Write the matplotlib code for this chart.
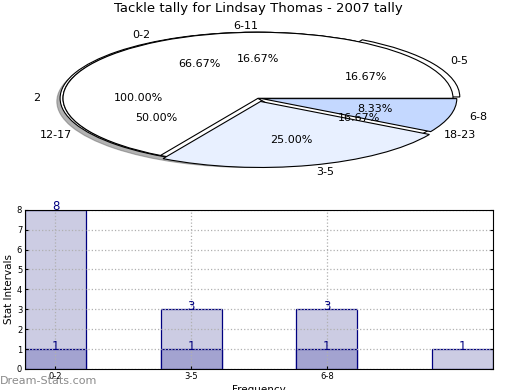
import matplotlib
matplotlib.use("Agg")
import matplotlib.pyplot as plt

TITLE = "Tackle tally for Lindsay Thomas - 2007 tally"

# pie rings drawn on top of each other
day_labels = ["2"]
day_values = [1]
hour_labels = ["0-5", "6-11", "12-17", "18-23"]
hour_values = [1, 1, 3, 1]
tally_labels = ["0-2", "3-5", "6-8"]
tally_values = [8, 3, 1]

# bar chart
bar_labels = ["0-2", "3-5", "6-8", ""]
bar_totals = [8, 3, 3, 1]
bar_lows = [1, 1, 1, 0]

fig = plt.figure(figsize=(5.2, 3.9), dpi=100)

# --- squashed pie ---
pax = fig.add_axes([0.0087, 0.528, 0.975, 0.44])
txt = dict(fontsize=8)
edge = dict(edgecolor="black", linewidth=0.8)
pax.pie(day_values, labels=day_labels, autopct="%.2f%%", colors=["white"],
        wedgeprops=edge, shadow=dict(ox=-0.012, oy=-0.035, shade=0.6),
        labeldistance=1.1, pctdistance=0.6, textprops=txt, center=(-0.015, 0.0))
pax.pie(hour_values, labels=hour_labels, autopct="%.2f%%",
        colors=["white"] * 4, explode=[0.04, 0, 0, 0], wedgeprops=edge,
        labeldistance=1.1, pctdistance=0.6, textprops=txt)
pax.pie(tally_values, labels=tally_labels, autopct="%.2f%%",
        colors=["white", "#E8F0FF", "#C4D8FF"], explode=[0, 0.05, 0.02],
        wedgeprops=edge, labeldistance=1.1, pctdistance=0.6, textprops=txt)
pax.set_aspect("auto")
pax.set_xlim(-1.3, 1.3)
pax.set_ylim(-1.3, 1.3)
pax.set_title(TITLE, fontsize=9.5, y=1.0, pad=0)

# --- bars ---
bax = fig.add_axes([0.048, 0.054, 0.9, 0.408])
x = list(range(len(bar_totals)))
bax.bar(x, bar_totals, width=0.45, color="#CCCCE3", edgecolor="#000080", linewidth=0.9)
bax.bar(x[:3], bar_lows[:3], width=0.45, color="#A3A3D0", edgecolor="#000080", linewidth=0.9)
for xi, v in zip(x, bar_totals):
    bax.text(xi, v + 0.15, str(v), ha="center", va="center", fontsize=8.5, color="#000080")
for xi, v in zip(x[:3], bar_lows[:3]):
    bax.text(xi, v + 0.15, str(v), ha="center", va="center", fontsize=8.5, color="#000080")
bax.set_xlim(-0.225, 3.225)
bax.set_ylim(0, 8)
bax.set_yticks(range(9))
bax.set_xticks(x[:3])
bax.set_xticklabels(bar_labels[:3])
bax.tick_params(labelsize=6, direction="in", length=2, right=True, pad=2)
bax.set_axisbelow(False)
bax.grid(True, linestyle=":", color="#b0b0b0", linewidth=0.9)
for sp in bax.spines.values():
    sp.set_zorder(5)
bax.set_ylabel("Stat Intervals", fontsize=7.5, labelpad=2)
bax.set_xlabel("Frequency", fontsize=7.5, labelpad=3)

fig.text(0.0, 0.015, "Dream-Stats.com", fontsize=8, color="#8a8a8a")

fig.savefig("out.png", dpi=100)
